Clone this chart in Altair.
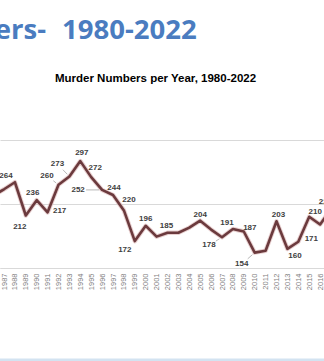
import altair as alt
import pandas as pd
import math

# ---- data ----
years = list(range(1986, 2018))
murders = [243, 253, 264, 212, 236, 217, 260, 273, 297, 272,
           252, 244, 220, 172, 196, 179, 185, 185, 193, 204,
           190, 178, 191, 187, 154, 157, 203, 160, 171, 210,
           198, 222]
labeled_years = [1988, 1989, 1990, 1991, 1992, 1993, 1994, 1995, 1996, 1997,
                 1998, 1999, 2000, 2002, 2005, 2007, 2008, 2009, 2010, 2012,
                 2013, 2014, 2015, 2017]
axis_years = list(range(1987, 2017))
grid_values = [130, 230, 330]

slide_title_left = "Murder Numbers-"
slide_title_right = "1980-2022"
chart_title = "Murder Numbers per Year, 1980-2022"

# ---- placement / style (pixels) ----
label_offsets = {
    1988: (-9, -6), 1989: (-6, 11), 1990: (-4, -7), 1991: (12, -1),
    1992: (-11.5, -9), 1993: (-12, -12.5), 1994: (1.5, -8), 1995: (4, -9),
    1996: (-24, 0), 1997: (1, -7), 1998: (5, -10), 1999: (-10, 9),
    2000: (0, -7), 2002: (-1, -7), 2005: (0, -6), 2007: (-13, 8),
    2008: (-6, -6), 2009: (6, -4), 2010: (-13, 11.5), 2012: (2, -6),
    2013: (7.5, 7), 2014: (13, -2.5), 2015: (6, -5), 2017: (-5.5, -7),
}
leader_years = [1992, 1993, 1996, 2007, 2010]

PLOT_W, PLOT_H = 324, 128
PX_PER_YEAR = 10.9
X0 = 1987 - 4 / PX_PER_YEAR
X_DOMAIN = [X0, X0 + PLOT_W / PX_PER_YEAR]
Y_DOMAIN = [130, 330]
PX_PER_UNIT = PLOT_H / (Y_DOMAIN[1] - Y_DOMAIN[0])

df = pd.DataFrame({"year": years, "murders": murders})

lab_rows = []
lead_rows = []
for y_, v in zip(years, murders):
    if y_ in labeled_years:
        dx, dy = label_offsets[y_]
        lab_rows.append({"year": y_ + dx / PX_PER_YEAR, "murders": v - dy / PX_PER_UNIT, "txt": str(v)})
        if y_ in leader_years:
            d = math.hypot(dx, dy)
            ux, uy = dx / d, dy / d
            s = d - 8
            e = 3
            lead_rows.append({
                "year": y_ + ux * s / PX_PER_YEAR, "murders": v - uy * s / PX_PER_UNIT,
                "year2": y_ + ux * e / PX_PER_YEAR, "murders2": v - uy * e / PX_PER_UNIT,
            })
df_lab = pd.DataFrame(lab_rows)
df_lead = pd.DataFrame(lead_rows)

xscale = alt.Scale(domain=X_DOMAIN, nice=False, zero=False)
yscale = alt.Scale(domain=Y_DOMAIN, nice=False, zero=False)

x_axis = alt.Axis(values=axis_years, format="d", labelAngle=-90, labelFontSize=7.5,
                  labelColor="#808080", labelFont="Liberation Sans", labelPadding=5,
                  ticks=False, domainColor="#d9d9d9", domainWidth=1, grid=False,
                  labelOverlap=False, title=None)
y_axis = alt.Axis(values=grid_values, labels=False, ticks=False, domain=False,
                  grid=True, gridColor="#d9d9d9", gridWidth=1, title=None)

X = alt.X("year:Q", scale=xscale, axis=x_axis)
Y = alt.Y("murders:Q", scale=yscale, axis=y_axis)

halo = alt.Chart(df).mark_line(color="#d8b0b0", strokeWidth=4.5, opacity=0.6,
                               strokeJoin="round").encode(x=X, y=Y)
line = alt.Chart(df).mark_line(color="#6b3a3d", strokeWidth=2.6,
                               strokeJoin="round").encode(x=X, y=Y)
leaders = alt.Chart(df_lead).mark_rule(color="#a6a6a6", strokeWidth=0.8).encode(
    x=X, x2="year2:Q", y=Y, y2="murders2:Q")
labels = alt.Chart(df_lab).mark_text(font="Liberation Sans", fontSize=8, fontWeight="bold",
                                     color="#404040", align="center", baseline="middle").encode(
    x=X, y=Y, text="txt:N")

one = pd.DataFrame({"k": [0]})
TITLE_FONT = "Open Sans"
t_left = alt.Chart(one).mark_text(font=TITLE_FONT, fontSize=27.5, fontWeight="bold",
                                  color="#4a7cc0", align="right", baseline="alphabetic").encode(
    x=alt.value(46), y=alt.value(-101), text=alt.value(slide_title_left))
t_right = alt.Chart(one).mark_text(font=TITLE_FONT, fontSize=27.5, fontWeight="bold",
                                   color="#4a7cc0", align="left", baseline="alphabetic").encode(
    x=alt.value(62), y=alt.value(-101), text=alt.value(slide_title_right))
t_chart = alt.Chart(one).mark_text(font="Liberation Sans", fontSize=11.5, fontWeight="bold",
                                   color="#000000", align="center", baseline="middle").encode(
    x=alt.value(155.5), y=alt.value(-61), text=alt.value(chart_title))
bottom_band = alt.Chart(one).mark_rule(color="#d3e3f1", strokeWidth=3).encode(
    x=alt.value(0), x2=alt.value(PLOT_W), y=alt.value(220))

chart = alt.layer(halo, line, leaders, labels, t_left, t_right, t_chart, bottom_band).properties(
    width=PLOT_W, height=PLOT_H,
    padding={"left": 0, "top": 140, "right": 0, "bottom": 93},
    autosize=alt.AutoSizeParams(type="none"),
    background="white",
).configure_view(stroke=None)

chart.save("out.html", embed_options={"renderer": "svg", "actions": False})
